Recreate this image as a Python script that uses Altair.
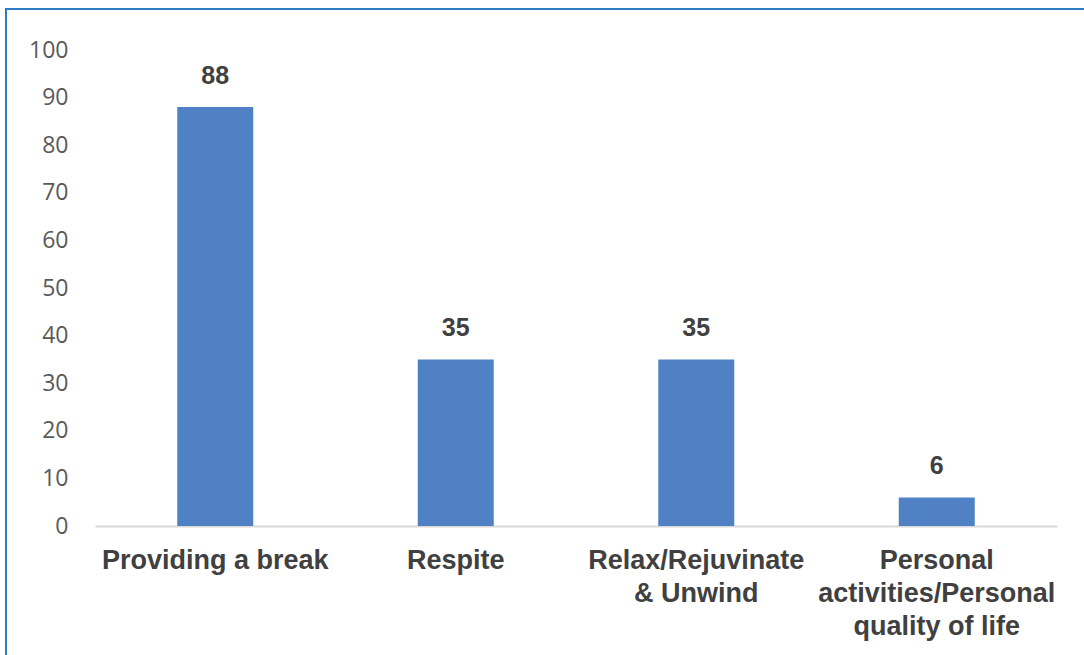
import altair as alt
import pandas as pd

categories = [
    "Providing a break",
    "Respite",
    "Relax/Rejuvinate\n& Unwind",
    "Personal\nactivities/Personal\nquality of life",
]
counts = [88, 35, 35, 6]

df = pd.DataFrame({"category": categories, "count": counts})

x_enc = alt.X(
    "category:N",
    sort=categories,
    title=None,
    scale=alt.Scale(paddingInner=0.684, paddingOuter=0.342),
    axis=alt.Axis(
        labelAngle=0,
        labelExpr="split(datum.label, '\\n')",
        labelFont="Liberation Sans",
        labelFontWeight="bold",
        labelFontSize=27,
        labelColor="#404040",
        labelLineHeight=33,
        labelPadding=21,
        labelLimit=400,
        ticks=False,
        domainColor="#d9d9d9",
        domainWidth=2,
    ),
)
y_enc = alt.Y(
    "count:Q",
    title=None,
    scale=alt.Scale(domain=[0, 100]),
    axis=alt.Axis(
        values=list(range(0, 101, 10)),
        grid=False,
        domain=False,
        ticks=False,
        labelFont="Open Sans",
        labelFontSize=23,
        labelColor="#595959",
        labelPadding=27,
    ),
)

bars = alt.Chart(df).mark_bar(color="#4f81c4").encode(x=x_enc, y=y_enc)

labels = alt.Chart(df).mark_text(
    font="Liberation Sans",
    fontWeight="bold",
    fontSize=25,
    color="#404040",
    baseline="alphabetic",
    dy=-23,
).encode(x=alt.X("category:N", sort=categories), y="count:Q", text="count:Q")

frame = alt.Chart(df).mark_rect(
    fill=None, stroke="#2e7bc4", strokeWidth=2, clip=False
).encode(
    x=alt.value(-89), y=alt.value(-41), x2=alt.value(1200), y2=alt.value(800)
)

chart = (
    alt.layer(frame, bars, labels)
    .properties(
        width=962,
        height=476,
        autosize=alt.AutoSizeParams(type="none"),
        padding={"left": 95, "top": 50, "right": 27, "bottom": 129},
        background="white",
    )
    .configure_view(stroke=None)
)

chart.save("out.html", embed_options={"renderer": "svg", "actions": False})
